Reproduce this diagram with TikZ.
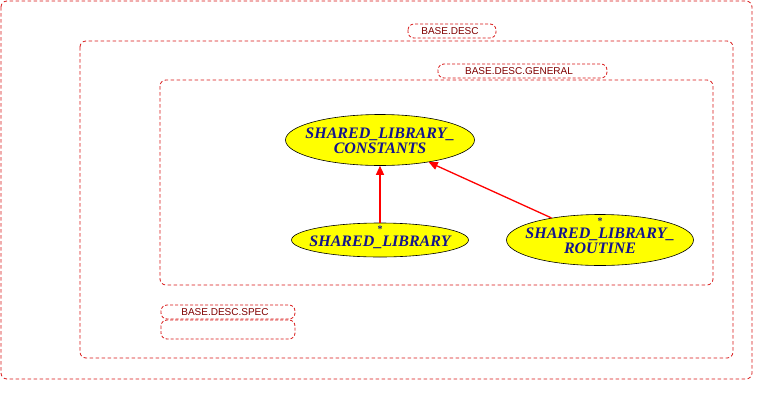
\documentclass[tikz,border=0pt]{standalone}
\usepackage{fontspec}
\setmainfont{Liberation Serif}
\newfontfamily\lblfont{Liberation Sans}
\usetikzlibrary{shapes.geometric,arrows.meta}
\definecolor{boxred}{RGB}{215,20,20}
\definecolor{lblred}{RGB}{128,0,0}
\definecolor{nodeblue}{RGB}{20,20,140}
\definecolor{nodeyellow}{RGB}{255,255,0}
\tikzset{
  pkgbox/.style={draw=boxred, dash pattern=on 3.5pt off 2.5pt, rounded corners=6pt, line width=0.8pt},
  pkgtab/.style={draw=boxred, dash pattern=on 3pt off 2pt, rounded corners=6pt, line width=0.8pt},
  pkglabel/.style={font=\lblfont\fontsize{10}{10}\selectfont, text=lblred, inner sep=0pt},
  cls/.style={ellipse, draw=black, fill=nodeyellow, line width=0.6pt, inner sep=0pt},
  clstext/.style={inner sep=0pt, align=center,
    font=\bfseries\itshape\fontsize{16}{15}\selectfont, text=nodeblue},
  star/.style={font=\bfseries\fontsize{10}{10}\selectfont, text=nodeblue, inner sep=0pt},
  dep/.style={draw=red, line width=1.3pt, -{Triangle[length=9pt,width=8pt]}}
}
\begin{document}
\begin{tikzpicture}[x=1pt,y=-1pt]
\useasboundingbox (0,0) rectangle (774,400);
% outer package
\draw[pkgbox] (1,1) rectangle (752,379);
\draw[pkgtab] (408,24) rectangle (496,38);
\node[pkglabel] (lbase) at (450,31) {BASE.DESC};
% middle package
\draw[pkgbox] (80,41) rectangle (733,358);
\draw[pkgtab] (438,64) rectangle (607,78);
\node[pkglabel] (lgen) at (519,71.5) {BASE.DESC.GENERAL};
% inner package
\draw[pkgbox] (160,80) rectangle (713,285);
% spec package
\draw[pkgtab] (161,305) rectangle (295,319);
\node[pkglabel] (lspec) at (225,312) {BASE.DESC.SPEC};
\draw[pkgtab] (161,320) rectangle (295,339);
% classes
\node[cls, minimum width=189pt, minimum height=51pt] (const) at (380,140) {};
\node[clstext] (consttext) at (380,141) {SHARED\_LIBRARY\_\\CONSTANTS};
\node[cls, minimum width=177pt, minimum height=34pt] (lib) at (380,240) {};
\node[clstext] (libtext) at (380,242.5) {SHARED\_LIBRARY};
\node[star] (libstar) at (380,229.5) {*};
\node[cls, minimum width=187pt, minimum height=51pt] (rout) at (600,240) {};
\node[clstext] (routtext) at (600,240.5) {SHARED\_LIBRARY\_\\ROUTINE};
\node[star] (routstar) at (600,221.5) {*};
% dependencies
\draw[dep] (lib.north) -- (const.south);
\draw[dep] (rout) -- (const);
\end{tikzpicture}
\end{document}
